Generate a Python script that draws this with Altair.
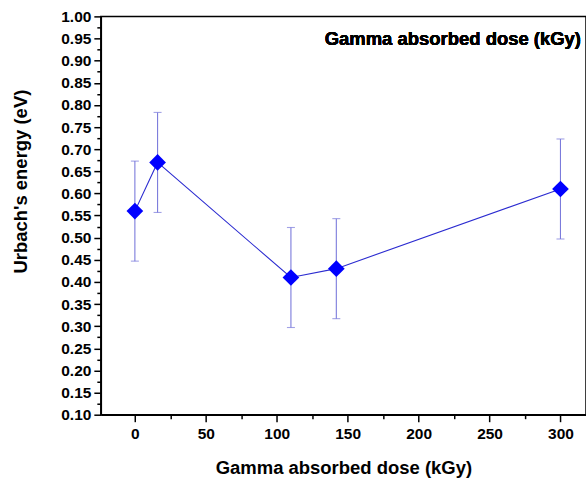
import altair as alt
import pandas as pd

# Urbach energy versus gamma absorbed dose
dose = [0, 16, 110, 142, 300]
urbach = [0.56, 0.67, 0.41, 0.43, 0.61]
err = [0.113, 0.113, 0.113, 0.113, 0.113]

y_major = [round(0.10 + 0.05 * i, 2) for i in range(19)]
y_minor = [round(0.125 + 0.05 * i, 3) for i in range(18)]
x_major = [0, 50, 100, 150, 200, 250, 300]
x_minor = [25, 75, 125, 175, 225, 275]

df = pd.DataFrame({
    "dose": dose,
    "urbach": urbach,
    "lo": [u - e for u, e in zip(urbach, err)],
    "hi": [u + e for u, e in zip(urbach, err)],
})

FONT = "Liberation Sans"
W, H = 486, 399

xscale = alt.Scale(domain=[-24, 318], nice=False, zero=False)
yscale = alt.Scale(domain=[0.1, 1.0], nice=False, zero=False)

x_axis = alt.Axis(values=x_major, format="d", title="Gamma absorbed dose (kGy)",
                  tickSize=7, labelPadding=5, titlePadding=16, grid=False,
                  orient="bottom")
y_axis = alt.Axis(values=y_major, format=".2f", title="Urbach's energy (eV)",
                  tickSize=7, labelPadding=3, grid=False, orient="left",
                  titleX=-70, titleY=165, titleAngle=-90)

base = alt.Chart(df)

line = base.mark_line(color="#2b2bd0", strokeWidth=1.1).encode(
    x=alt.X("dose:Q", scale=xscale, axis=x_axis),
    y=alt.Y("urbach:Q", scale=yscale, axis=y_axis),
)

bars = base.mark_errorbar(
    color="#7b7bdc", thickness=1.1,
    ticks=alt.MarkConfig(size=8, color="#7b7bdc", strokeWidth=1.1),
).encode(
    x=alt.X("dose:Q", scale=xscale, axis=None),
    y=alt.Y("lo:Q", scale=yscale, axis=None),
    y2="hi:Q",
)

points = base.mark_point(shape="diamond", filled=True, size=280, color="#0000ff",
                         opacity=1).encode(
    x=alt.X("dose:Q", scale=xscale, axis=None),
    y=alt.Y("urbach:Q", scale=yscale, axis=None),
)

# Extra axes carrying only the minor ticks
minor = base.mark_point(opacity=0).encode(
    x=alt.X("dose:Q", scale=xscale,
            axis=alt.Axis(values=x_minor, labels=False, domain=False, tickSize=4,
                          title=None, grid=False, orient="bottom")),
    y=alt.Y("urbach:Q", scale=yscale,
            axis=alt.Axis(values=y_minor, labels=False, domain=False, tickSize=4,
                          title=None, grid=False, orient="left")),
)

note = alt.Chart(df).mark_text(
    text="Gamma absorbed dose (kGy)", font=FONT, fontSize=18.5, fontWeight="bold",
    align="right", baseline="middle", color="black",
).encode(x=alt.value(W - 5), y=alt.value(23))

chart = alt.layer(line, bars, points, minor, note).resolve_axis(
    x="independent", y="independent"
).properties(
    width=W, height=H,
    padding={"left": 101, "top": 16, "right": 0, "bottom": 66},
    autosize=alt.AutoSizeParams(type="none"),
    background="white",
).configure_view(
    stroke="black", strokeWidth=1.5,
).configure_axis(
    domainColor="black", domainWidth=1.5, tickColor="black", tickWidth=1.5,
    labelFont=FONT, labelFontSize=15.5, labelFontWeight="bold", labelColor="black",
    titleFont=FONT, titleFontSize=18.5, titleFontWeight="bold", titleColor="black",
)

chart.save("out.html", embed_options={"renderer": "svg", "actions": False})
